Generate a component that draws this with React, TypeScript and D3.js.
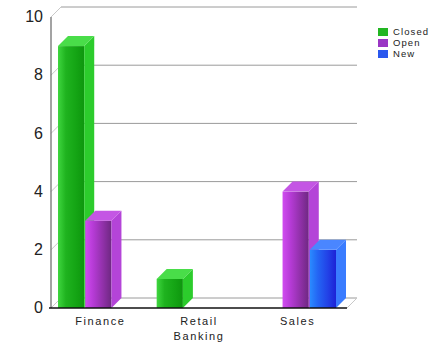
import React from "react";
import * as d3 from "d3";

const categories = ["Finance", "Retail\nBanking", "Sales"];
const seriesNames = ["Closed", "Open", "New"];
const closedValues = [9, 1, 0];
const openValues = [3, 0, 4];
const newValues = [0, 0, 2];
const yTicks = [0, 2, 4, 6, 8, 10];

const seriesValues = [closedValues, openValues, newValues];

const W = 442;
const H = 342;
const left = 51;
const right = 347;
const bottom = 308;
const top = 17;
const DX = 10;
const DY = 10;

const palette = [
  { legend: "#22b622", front: ["#3fd63f", "#1fb31f", "#14a414", "#0e960e"], side: "#2ccc2c", top: "#49dd49" },
  { legend: "#9a36c4", front: ["#d04cf0", "#b63bd6", "#8e30a6", "#6e2882"], side: "#b444d8", top: "#c456e4" },
  { legend: "#2a58ee", front: ["#2a8cff", "#2466f4", "#2240e6", "#1d22d6"], side: "#3a7cff", top: "#4a86ff" },
];

export default function App() {
  const y = d3.scaleLinear().domain([0, 10]).range([bottom, top]);
  const x0 = d3.scaleBand<string>().domain(categories).range([left, right]);
  const x1 = d3
    .scaleBand<string>()
    .domain(seriesNames)
    .range([7, x0.bandwidth() - 10]);
  const bw = x1.bandwidth() - 1;

  const bars: { key: string; s: number; x: number; yv: number }[] = [];
  categories.forEach((c, ci) => {
    seriesNames.forEach((s, si) => {
      const v = seriesValues[si][ci];
      if (v > 0) bars.push({ key: c + s, s: si, x: (x0(c) as number) + (x1(s) as number), yv: v });
    });
  });

  const font = "'Liberation Sans', Arial, sans-serif";

  return (
    <svg width={W} height={H} style={{ position: "absolute", left: 0, top: 0, background: "#fff" }}>
      <defs>
        {palette.map((p, i) => (
          <linearGradient key={i} id={"g" + i} x1="0" x2="1" y1="0" y2="0">
            <stop offset="0%" stopColor={p.front[0]} />
            <stop offset="30%" stopColor={p.front[1]} />
            <stop offset="70%" stopColor={p.front[2]} />
            <stop offset="100%" stopColor={p.front[3]} />
          </linearGradient>
        ))}
      </defs>
      {/* back wall grid lines */}
      {yTicks.map((t) => (
        <g key={t}>
          <line x1={left + DX} x2={right + DX} y1={y(t) - DY} y2={y(t) - DY} stroke="#9a9a9a" strokeWidth={1} />
          <line x1={left} x2={left + DX} y1={y(t)} y2={y(t) - DY} stroke="#c8c8c8" strokeWidth={1} />
        </g>
      ))}
      {/* floor right edge */}
      <line x1={right} x2={right + DX} y1={bottom} y2={bottom - DY} stroke="#c8c8c8" strokeWidth={1} />
      {/* left axis */}
      <line x1={left} x2={left} y1={bottom} y2={y(10)} stroke="#666" strokeWidth={1.2} />
      {/* bars */}
      {bars.map((b) => {
        const p = palette[b.s];
        const yt = y(b.yv);
        const x = b.x;
        return (
          <g key={b.key}>
            <rect x={x} y={yt} width={bw} height={bottom - yt} fill={`url(#g${b.s})`} />
            <polygon
              points={`${x + bw},${yt} ${x + bw + DX},${yt - DY} ${x + bw + DX},${bottom - DY} ${x + bw},${bottom}`}
              fill={p.side}
            />
            <polygon
              points={`${x},${yt} ${x + DX},${yt - DY} ${x + bw + DX},${yt - DY} ${x + bw},${yt}`}
              fill={p.top}
            />
          </g>
        );
      })}
      {/* front baseline */}
      <line x1={left - 2} x2={right} y1={bottom} y2={bottom} stroke="#111" strokeWidth={1.5} />
      {/* y tick labels */}
      {yTicks.map((t) => (
        <text
          key={t}
          x={43}
          y={y(t) + 1}
          textAnchor="end"
          dominantBaseline="middle"
          fontFamily={font}
          fontSize={16}
          fill="#222"
        >
          {t}
        </text>
      ))}
      {/* category labels */}
      {categories.map((c) => {
        const lines = c.split("\n");
        const cx = (x0(c) as number) + x0.bandwidth() / 2;
        return (
          <text key={c} textAnchor="middle" fontFamily={font} fontSize={11} fill="#222" letterSpacing={1.6}>
            {lines.map((l, i) => (
              <tspan key={i} x={cx} y={325 + i * 15}>
                {l}
              </tspan>
            ))}
          </text>
        );
      })}
      {/* legend */}
      {seriesNames.map((s, i) => (
        <g key={s} transform={`translate(378, ${28 + i * 11})`}>
          <rect x={0} y={0} width={10} height={8} fill={palette[i].legend} />
          <text x={15} y={4.5} dominantBaseline="middle" fontFamily={font} fontSize={9.5} fill="#222" letterSpacing={1.1}>
            {s}
          </text>
        </g>
      ))}
    </svg>
  );
}
